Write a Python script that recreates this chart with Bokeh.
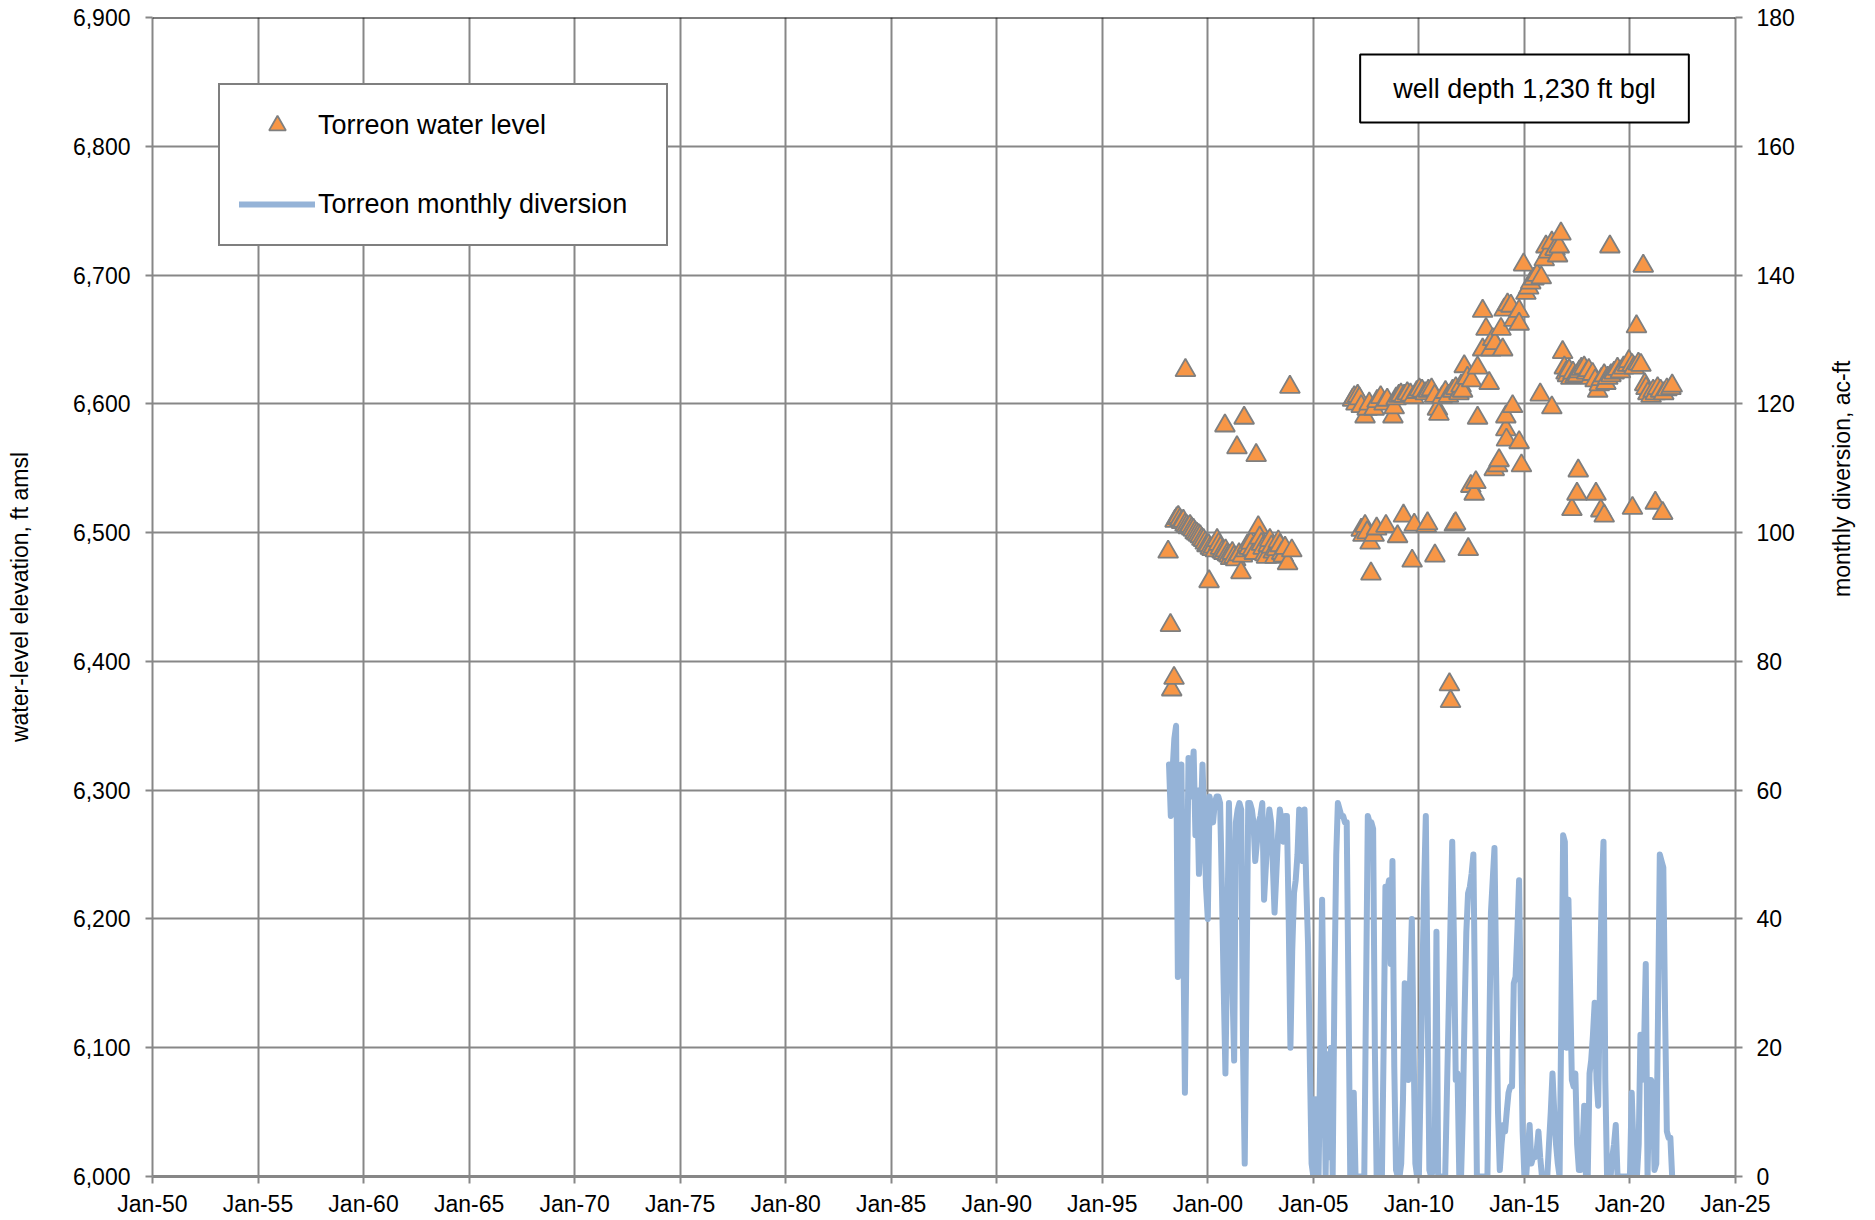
from datetime import datetime
import math
import pandas as pd
from bokeh.plotting import figure
from bokeh.models import (Range1d, LinearAxis, FixedTicker, DatetimeTickFormatter,
                          NumeralTickFormatter, Legend, LegendItem, Label, Span,
                          ColumnDataSource)
from bokeh.embed import file_html
from bokeh.resources import INLINE

FONT = "Liberation Sans"

# ---------------- data ----------------
x_tick_years = list(range(1950, 2026, 5))
left_ticks = list(range(6000, 6901, 100))
right_ticks = list(range(0, 181, 20))

# Torreon water level (decimal year, ft amsl)
wl_year = [
    1998.12, 1998.23, 1998.29, 1998.40,
    1998.45, 1998.53, 1998.60, 1998.68, 1998.76, 1998.84, 1998.92, 1998.94,
    1999.00, 1999.08, 1999.16, 1999.24, 1999.32, 1999.40, 1999.48, 1999.56, 1999.64,
    1999.72, 1999.80, 1999.88, 1999.96,
    2000.04, 2000.06, 2000.12, 2000.20, 2000.28, 2000.36, 2000.44, 2000.52, 2000.60,
    2000.68, 2000.76, 2000.81, 2000.84, 2000.92,
    2001.00, 2001.08, 2001.16, 2001.24, 2001.32, 2001.38, 2001.48, 2001.57, 2001.64,
    2001.72, 2001.80, 2001.88, 2001.96,
    2002.04, 2002.12, 2002.20, 2002.29, 2002.39, 2002.46, 2002.54, 2002.62, 2002.70,
    2002.78, 2002.86, 2002.94,
    2003.02, 2003.10, 2003.18, 2003.26, 2003.34, 2003.42, 2003.50, 2003.58, 2003.66,
    2003.78, 2003.89, 2003.98,
    2006.86, 2006.94, 2007.02, 2007.10, 2007.18, 2007.27, 2007.45, 2007.55, 2007.65,
    2007.88, 2008.02, 2008.19, 2008.35, 2008.50, 2008.77, 2008.83, 2008.92, 2009.05,
    2009.15, 2009.30, 2009.45, 2009.60, 2009.75, 2009.90, 2010.02, 2010.15, 2010.30,
    2010.45, 2010.60, 2010.75, 2010.88, 2010.95, 2011.10, 2011.26, 2011.40, 2011.60,
    2011.75, 2011.90, 2012.00, 2012.07,
    2007.27, 2007.35, 2007.45, 2007.55, 2007.69, 2007.73, 2007.88, 2008.00, 2008.44,
    2008.99, 2009.27, 2009.68, 2009.78, 2010.35, 2010.41, 2010.76, 2011.45, 2011.50,
    2011.68, 2011.74, 2012.34,
    2012.15, 2012.30, 2012.50, 2012.78, 2013.02, 2013.02, 2013.18, 2013.33, 2013.41,
    2013.50, 2013.60, 2013.89, 2013.97, 2014.04, 2014.20, 2014.36, 2014.50, 2014.75,
    2014.75, 2014.96, 2015.07, 2015.20, 2015.30, 2015.45, 2015.60, 2015.80, 2015.94,
    2016.02, 2016.15, 2016.30, 2016.45, 2016.57, 2016.65, 2016.73,
    2012.46, 2012.62, 2012.70, 2012.78, 2013.57, 2013.73, 2013.80, 2014.12, 2014.12,
    2014.15, 2014.44, 2014.75, 2014.86, 2015.75, 2016.30,
    2016.81, 2016.89, 2016.97, 2017.04, 2017.12, 2017.20, 2017.30, 2017.40, 2017.52,
    2017.60, 2017.70, 2017.83, 2017.95, 2018.05, 2018.15, 2018.23, 2018.35, 2018.47,
    2018.55, 2018.65, 2018.78, 2018.86, 2018.95, 2019.05, 2019.10, 2019.25, 2019.41,
    2019.55, 2019.70, 2019.89, 2019.95, 2020.10, 2020.20, 2020.31, 2020.40, 2020.52,
    2020.63, 2020.70, 2020.76, 2020.85, 2021.00, 2021.10, 2021.20, 2021.31, 2021.45,
    2021.60, 2021.75, 2021.94, 2022.00,
    2017.25, 2017.49, 2017.55, 2018.39, 2018.62, 2018.78, 2020.12, 2021.20, 2021.55,
]
wl_elev = [
    6485, 6428, 6378, 6387,
    6509, 6511, 6512, 6510, 6508, 6509, 6506, 6626,
    6505, 6504, 6505, 6503, 6502, 6500, 6499, 6498, 6497,
    6495, 6494, 6492, 6490,
    6490, 6462, 6488, 6487, 6489, 6486, 6494, 6491, 6488,
    6485, 6484, 6583, 6486, 6483,
    6482, 6480, 6484, 6481, 6479, 6566, 6483, 6469, 6482,
    6589, 6486, 6490, 6488,
    6492, 6487, 6484, 6560, 6504, 6496, 6491, 6488, 6483,
    6481, 6490, 6494,
    6489, 6485, 6481, 6487, 6493, 6490, 6484, 6482, 6488,
    6476, 6613, 6486,
    6603, 6605, 6600, 6606, 6604, 6598, 6590, 6596, 6600,
    6596, 6602, 6605, 6600, 6603, 6590, 6597, 6604, 6606,
    6607, 6606, 6608, 6607, 6605, 6609, 6611, 6610, 6608,
    6610, 6611, 6606, 6596, 6592, 6605, 6609, 6606, 6610,
    6612, 6608, 6614, 6610,
    6502, 6498, 6505, 6500, 6492, 6468, 6498, 6503, 6505,
    6497, 6513, 6478, 6506, 6505, 6507, 6482, 6382, 6369,
    6506, 6507, 6487,
    6629, 6620, 6618, 6628, 6672, 6642, 6658, 6616, 6642,
    6650, 6647, 6658, 6642, 6673, 6677, 6676, 6665, 6672,
    6662, 6708, 6686, 6690, 6694, 6697, 6700, 6698, 6712,
    6722, 6718, 6725, 6720, 6715, 6722, 6732,
    6536, 6530, 6539, 6589, 6549, 6552, 6556, 6580, 6590,
    6572, 6598, 6570, 6552, 6607, 6597,
    6640, 6628, 6624, 6622, 6626, 6620, 6624, 6621, 6622,
    6625, 6627, 6628, 6624, 6626, 6620, 6623, 6618, 6610,
    6615, 6619, 6622, 6616, 6620, 6722, 6622, 6624, 6627,
    6625, 6628, 6630, 6633, 6630, 6628, 6660, 6631, 6630,
    6707, 6615, 6612, 6608, 6606, 6610, 6608, 6612, 6610,
    6608, 6611, 6612, 6614,
    6518, 6530, 6548, 6530, 6517, 6513, 6519, 6523, 6515,
]

# Torreon monthly diversion (ac-ft), monthly from March 1998
div_start = "1998-03-01"
div_acft = [
    64, 56, 63, 68, 70, 31, 60, 64, 40, 13,                  # 1998 Mar-Dec
    40, 65, 59, 62, 66, 53, 60, 47, 55, 64, 55, 45,          # 1999
    40, 59, 57, 55, 58, 59, 59, 58, 45, 30, 16, 35,          # 2000
    58, 45, 30, 18, 55, 57, 58, 57, 20, 2, 30, 58,           # 2001
    58, 57, 55, 49, 52, 55, 56, 58, 43, 48, 54, 57,          # 2002
    55, 48, 41, 47, 53, 57, 55, 52, 56, 56, 40, 20,          # 2003
    35, 44, 46, 50, 57, 54, 49, 57, 45, 36, 18, 2,           # 2004
    0, 12, 5, 0, 20, 43, 22, 0, 19, 3, 20, 0,                # 2005
    30, 50, 58, 57, 56, 56, 55, 55, 28, 0, 2, 13,            # 2006
    0, 0, 0, 0, 0, 0, 28, 56, 55, 55, 54, 20,                # 2007
    0, 0, 0, 0, 20, 45, 44, 46, 33, 49, 17, 1,               # 2008
    0, 0, 2, 12, 30, 29, 15, 30, 40, 20, 2, 0,               # 2009
    0, 15, 30, 45, 56, 28, 1, 0, 1, 2, 38, 0,                # 2010
    0, 0, 0, 0, 13, 26, 39, 52, 36, 15, 16, 0,               # 2011
    0, 10, 25, 38, 44, 45, 47, 50, 25, 0, 0, 0,              # 2012
    0, 0, 0, 0, 20, 41, 46, 51, 30, 10, 1, 5,                # 2013
    8, 7, 10, 13, 14, 14, 30, 31, 38, 46, 25, 7,             # 2014
    0, 0, 4, 8, 2, 3, 3, 4, 7, 3, 0, 0,                      # 2015
    0, 0, 5, 10, 16, 10, 5, 2, 0, 25, 53, 52,                # 2016
    20, 43, 30, 15, 14, 16, 5, 1, 1, 4, 11, 0,               # 2017
    0, 16, 18, 22, 27, 15, 11, 30, 45, 52, 15, 0,            # 2018
    0, 0, 3, 5, 8, 0, 0, 0, 0, 0, 0, 0,                      # 2019
    0, 13, 5, 0, 0, 5, 22, 15, 20, 33, 0, 15,                # 2020
    15, 14, 1, 2, 25, 50, 49, 48, 25, 7, 6, 6,               # 2021
    0,                                                       # 2022 Jan
]

wl_label = "Torreon water level"
div_label = "Torreon monthly diversion"
note_text = "well depth 1,230 ft bgl"
left_title = "water-level elevation, ft amsl"
right_title = "monthly diversion, ac-ft"


def year_to_dt(t):
    y = int(t)
    start = datetime(y, 1, 1)
    return start + (datetime(y + 1, 1, 1) - start) * (t - y)


def ms(y):
    return (datetime(y, 1, 1) - datetime(1970, 1, 1)).total_seconds() * 1000.0


wl_src = ColumnDataSource(dict(x=[year_to_dt(t) for t in wl_year], y=wl_elev))
div_src = ColumnDataSource(dict(
    x=list(pd.date_range(div_start, periods=len(div_acft), freq="MS")), y=div_acft))

# ---------------- figure ----------------
GRID = "#878787"

p = figure(width=1872, height=1219, output_backend="svg", toolbar_location=None,
           x_axis_type="datetime",
           x_range=Range1d(datetime(1950, 1, 1), datetime(2025, 1, 1)),
           y_range=Range1d(6000, 6900),
           min_border_left=152, min_border_right=137,
           min_border_top=17, min_border_bottom=43)
p.outline_line_color = None
p.background_fill_color = "white"
p.border_fill_color = "white"

p.extra_y_ranges = {"div": Range1d(0, 180)}

xt = FixedTicker(ticks=[ms(y) for y in x_tick_years], num_minor_ticks=0)
yt = FixedTicker(ticks=left_ticks, num_minor_ticks=0)
p.xaxis.ticker = xt
p.yaxis.ticker = yt
p.xgrid.ticker = xt
p.ygrid.ticker = yt
p.xaxis.formatter = DatetimeTickFormatter(years="%b-%y", months="%b-%y", days="%b-%y",
                                          hours="%b-%y", minutes="%b-%y")
p.yaxis.formatter = NumeralTickFormatter(format="0,0")

for g in (p.xgrid, p.ygrid):
    g.grid_line_color = GRID
    g.grid_line_width = 2

right = LinearAxis(y_range_name="div", ticker=FixedTicker(ticks=right_ticks, num_minor_ticks=0))
p.add_layout(right, "right")

p.yaxis[0].axis_label = left_title
right.axis_label = right_title


def style_axis(ax, standoff, label_standoff, line_width=2):
    ax.axis_line_color = GRID
    ax.axis_line_width = line_width
    ax.major_tick_line_color = GRID
    ax.major_tick_line_width = 2
    ax.major_tick_out = 7
    ax.major_tick_in = 0
    ax.minor_tick_line_color = None
    ax.major_label_text_font = FONT
    ax.major_label_text_font_size = "23px"
    ax.major_label_text_color = "black"
    ax.major_label_standoff = standoff
    ax.axis_label_text_font = FONT
    ax.axis_label_text_font_size = "23px"
    ax.axis_label_text_font_style = "normal"
    ax.axis_label_text_color = "black"
    ax.axis_label_standoff = label_standoff


style_axis(p.xaxis[0], 7, 0, line_width=3)
style_axis(p.yaxis[0], 15, 37)
style_axis(right, 14, 44)
right.axis_label_orientation = math.pi / 2

# top border line
p.add_layout(Span(location=6900, dimension="width", line_color="black", line_width=2))

# ---------------- data glyphs ----------------
ln = p.line("x", "y", source=div_src, y_range_name="div", line_color="#95B3D7",
            line_width=6, line_join="round", line_cap="round")
sc = p.scatter("x", "y", source=wl_src, marker="triangle", size=20,
               fill_color="#F79646", line_color="#7F7F7F", line_width=1.8)

legend = Legend(items=[LegendItem(label=wl_label, renderers=[sc]),
                       LegendItem(label=div_label, renderers=[ln])],
                location="top_left", margin=66, padding=19, spacing=37,
                glyph_width=76, glyph_height=42, label_standoff=3,
                label_width=329, label_height=30,
                label_text_font=FONT, label_text_font_size="27px",
                label_text_color="black",
                border_line_color="black", border_line_width=2,
                background_fill_color="white", background_fill_alpha=1.0)
p.add_layout(legend)

note = Label(x=1372, y=1088, x_units="screen", y_units="screen", text=note_text,
             text_align="center", text_baseline="middle",
             text_font=FONT, text_font_size="27px", text_color="black",
             border_line_color="black", border_line_width=2,
             background_fill_color="white", background_fill_alpha=1.0,
             padding=dict(left=33, right=33, top=19, bottom=19))
p.add_layout(note)

open("out.html", "w").write(file_html(p, INLINE))
